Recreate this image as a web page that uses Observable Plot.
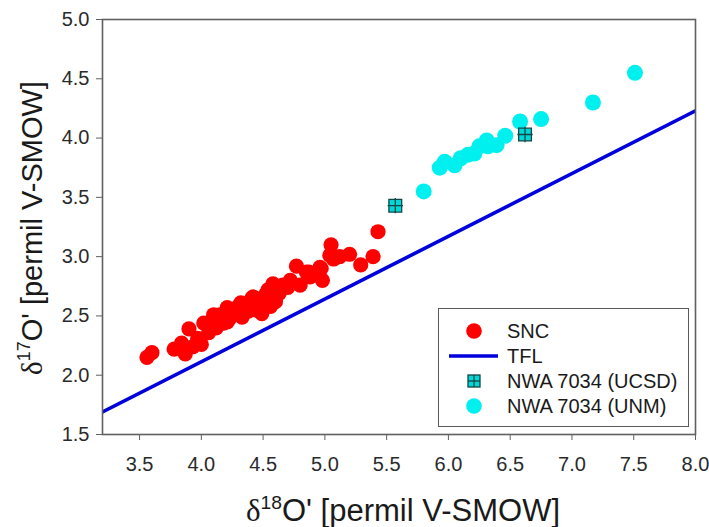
<!DOCTYPE html>
<html>
<head>
<meta charset="utf-8">
<script src="https://cdn.jsdelivr.net/npm/d3@7"></script>
<script src="https://cdn.jsdelivr.net/npm/@observablehq/plot@0.6"></script>
<style>
  body { margin: 0; background: #fff; }
  #wrap { position: relative; width: 709px; height: 527px; font-family: "Liberation Sans", Arial, sans-serif; color: #222; overflow: hidden; }
  #chart { position: absolute; left: 0; top: 0; }
  .axlabel { position: absolute; white-space: nowrap; line-height: 1; color: #1a1a1a; }
  .axlabel .delta { font-family: "Liberation Serif", "DejaVu Serif", serif; }
  .axlabel .sup { font-size: 0.62em; vertical-align: 0.62em; }
  #xlabel { font-size: 31px; left: 403px; top: 493px; transform: translateX(-50%); }
  #ylabel { font-size: 29px; left: 31px; top: 228px; transform: translate(-50%, -50%) rotate(-90deg); }
  #legend { position: absolute; left: 438px; top: 308px; width: 251px; height: 119px; border: 1.5px solid #5a5a5a; background: #fff; box-sizing: border-box; }
  .lrow { position: absolute; left: 0; height: 24px; width: 250px; }
  .lrow svg { position: absolute; left: 8px; top: 0; }
  .lrow span { position: absolute; left: 68px; top: 0; line-height: 24px; font-size: 20px; color: #1a1a1a; white-space: nowrap; }
</style>
</head>
<body>
<div id="wrap">
  <div id="chart"></div>
  <div class="axlabel" id="ylabel"><span class="delta">δ</span><span class="sup">17</span>O' [permil V-SMOW]</div>
  <div class="axlabel" id="xlabel"><span class="delta">δ</span><span class="sup">18</span>O' [permil V-SMOW]</div>
  <div id="legend"></div>
</div>
<script>
// SNC meteorites (red)
const sncX = [3.56, 3.60, 3.78, 3.84, 3.87, 3.90, 3.93, 3.97, 4.00, 4.02, 4.06, 4.09, 4.10, 4.12, 4.15, 4.18, 4.21, 4.21, 4.23, 4.27, 4.29, 4.30, 4.32, 4.33, 4.34, 4.35, 4.38, 4.41, 4.42, 4.44, 4.45, 4.47, 4.48, 4.49, 4.52, 4.54, 4.54, 4.56, 4.58, 4.60, 4.60, 4.63, 4.66, 4.70, 4.72, 4.77, 4.80, 4.85, 4.87, 4.88, 4.95, 4.96, 4.97, 4.98, 5.04, 5.05, 5.07, 5.12, 5.20, 5.29, 5.39, 5.43];
const sncY = [2.15, 2.19, 2.22, 2.27, 2.18, 2.39, 2.24, 2.31, 2.26, 2.44, 2.36, 2.47, 2.51, 2.40, 2.51, 2.44, 2.57, 2.45, 2.48, 2.53, 2.52, 2.58, 2.61, 2.49, 2.60, 2.60, 2.54, 2.65, 2.66, 2.55, 2.55, 2.60, 2.59, 2.52, 2.68, 2.72, 2.67, 2.58, 2.77, 2.62, 2.69, 2.69, 2.76, 2.74, 2.80, 2.92, 2.76, 2.87, 2.87, 2.83, 2.85, 2.91, 2.90, 2.80, 3.01, 3.10, 2.98, 3.00, 3.02, 2.93, 3.00, 3.21];
// NWA 7034 (UNM) (cyan)
const unmX = [5.80, 5.93, 5.97, 6.05, 6.10, 6.16, 6.21, 6.25, 6.31, 6.32, 6.39, 6.46, 6.58, 6.75, 7.17, 7.51];
const unmY = [3.55, 3.75, 3.80, 3.77, 3.83, 3.86, 3.87, 3.93, 3.98, 3.93, 3.94, 4.02, 4.14, 4.16, 4.30, 4.55];
// NWA 7034 (UCSD) (squares)
const ucsdX = [5.57, 6.62];
const ucsdY = [3.43, 4.03];
// Terrestrial fractionation line (read at the plot edges)
const tflX = [3.2, 8.0];
const tflY = [1.69, 4.23];
// Tick labels
const xTicks = [3.5, 4.0, 4.5, 5.0, 5.5, 6.0, 6.5, 7.0, 7.5, 8.0];
const yTicks = [1.5, 2.0, 2.5, 3.0, 3.5, 4.0, 4.5, 5.0];

const snc = sncX.map((x, i) => ({x, y: sncY[i]}));
const unm = unmX.map((x, i) => ({x, y: unmY[i]}));
const ucsd = ucsdX.map((x, i) => ({x, y: ucsdY[i]}));
const tfl = tflX.map((x, i) => ({x, y: tflY[i]}));

const RED = "#ff0000", CYAN = "#00f0f0", BLUE = "#0000dc", SQ = "#00d8d8", SQS = "#124545";
const fmt = d3.format(".1f");

const plot = Plot.plot({
  width: 709,
  height: 482,
  marginLeft: 102,
  marginRight: 14,
  marginTop: 19,
  marginBottom: 48,
  style: {fontFamily: "'Liberation Sans', Arial, sans-serif", fontSize: "20px", color: "#2a2a2a", background: "transparent"},
  x: {domain: [3.2, 8.0]},
  y: {domain: [1.5, 5.0]},
  marks: [
    Plot.line(tfl, {x: "x", y: "y", stroke: BLUE, strokeWidth: 3.6, clip: true}),
    Plot.dot(snc, {x: "x", y: "y", r: 7.6, fill: RED}),
    Plot.dot(unm, {x: "x", y: "y", r: 8, fill: CYAN}),
    Plot.dot(ucsd, {x: "x", y: "y", r: 7.2, symbol: "square", fill: SQ, stroke: SQS, strokeWidth: 1.3}),
    Plot.dot(ucsd, {x: "x", y: "y", r: 5, symbol: "plus", stroke: SQS, strokeWidth: 1.3}),
    Plot.frame({stroke: "#606060", strokeWidth: 1.6}),
    Plot.axisX({ticks: xTicks, tickFormat: fmt, tickSize: 6, tickPadding: 16, label: null, stroke: "#606060", fill: "#2a2a2a", fontSize: 20}),
    Plot.axisY({ticks: yTicks, tickFormat: fmt, tickSize: 6, tickPadding: 7, label: null, stroke: "#606060", fill: "#2a2a2a", fontSize: 20})
  ]
});
document.getElementById("chart").appendChild(plot);

// Legend
const legendItems = [
  {label: "SNC", kind: "dot", color: RED},
  {label: "TFL", kind: "line", color: BLUE},
  {label: "NWA 7034 (UCSD)", kind: "square", color: SQ},
  {label: "NWA 7034 (UNM)", kind: "dot", color: CYAN}
];
const legend = d3.select("#legend");
legendItems.forEach((d, i) => {
  const row = legend.append("div").attr("class", "lrow").style("top", (10 + 25 * i) + "px");
  const svg = row.append("svg").attr("width", 56).attr("height", 24);
  if (d.kind === "dot") {
    svg.append("circle").attr("cx", 27).attr("cy", 12).attr("r", 7.8).attr("fill", d.color);
  } else if (d.kind === "line") {
    svg.append("line").attr("x1", 2).attr("x2", 51).attr("y1", 12).attr("y2", 12).attr("stroke", d.color).attr("stroke-width", 3.6);
  } else {
    svg.append("rect").attr("x", 21).attr("y", 6).attr("width", 12).attr("height", 12).attr("fill", d.color).attr("stroke", SQS).attr("stroke-width", 1.3);
    svg.append("line").attr("x1", 27).attr("x2", 27).attr("y1", 6).attr("y2", 18).attr("stroke", SQS).attr("stroke-width", 1.3);
    svg.append("line").attr("x1", 21).attr("x2", 33).attr("y1", 12).attr("y2", 12).attr("stroke", SQS).attr("stroke-width", 1.3);
  }
  row.append("span").text(d.label);
});
</script>
</body>
</html>
